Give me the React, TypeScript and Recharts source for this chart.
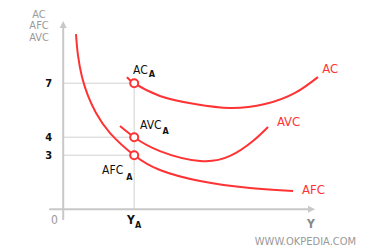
import React from "react";
import { ComposedChart, Line, XAxis, YAxis, ReferenceLine, ReferenceDot } from "recharts";

// Curve values (x in output units, Y_A = 4; y in cost units)
const acX = [3.59, 4, 5.45, 7.42, 9.4, 11.37, 13.06, 14.35];
const acY = [7.34, 7, 6.29, 5.84, 5.62, 5.84, 6.46, 7.34];
const avcX = [3.2, 4, 5.45, 7.71, 9.4, 10.69, 11.54];
const avcY = [4.62, 4, 3.23, 2.68, 2.96, 3.79, 4.57];
const afcX = [0.72, 0.83, 1.06, 1.4, 1.85, 2.64, 4, 5.45, 7.71, 10.52, 12.95];
const afcY = [9.73, 8.57, 7.34, 6.29, 5.34, 4.23, 3, 2.18, 1.57, 1.18, 1.01];

const yA = 4;
const yTicks = [7, 4, 3];
const pointNames = ["AC", "AVC", "AFC"];
const yTitle = ["AC", "AFC", "AVC"];

const RED = "#ff3333";
const AXIS = "#c8c8c8";
const GUIDE = "#d2d2d2";
const FONT = "'DejaVu Sans Condensed', 'Liberation Sans', sans-serif";

const toRows = (xs: number[], ys: number[]) => xs.map((x, i) => ({ x, y: ys[i] }));
const acData = toRows(acX, acY);
const avcData = toRows(avcX, avcY);
const afcData = toRows(afcX, afcY);

type TextSpec = {
  key: string;
  x: number;
  y: number;
  text: string;
  sub?: string;
  subDx?: number;
  subDy?: number;
  anchor?: "start" | "middle" | "end";
  size: number;
  subSize?: number;
  color: string;
  weight?: string;
};

const texts: TextSpec[] = [
  { key: "t0", x: -1.36, y: 10.84, text: yTitle[0], anchor: "middle", size: 11, color: "#9a9a9a" },
  { key: "t1", x: -1.36, y: 10.18, text: yTitle[1], anchor: "middle", size: 11, color: "#9a9a9a" },
  { key: "t2", x: -1.36, y: 9.52, text: yTitle[2], anchor: "middle", size: 11, color: "#9a9a9a" },
  ...yTicks.map((v) => ({ key: "yt" + v, x: -0.63, y: v, text: String(v), anchor: "end" as const, size: 11, color: "#111", weight: "bold" })),
  { key: "zero", x: -0.49, y: -0.6, text: "0", anchor: "middle", size: 12, color: "#999" },
  { key: "ya", x: 3.6, y: -0.6, text: "Y", sub: "A", subDx: 0, subDy: 5, size: 12, subSize: 9, color: "#111", weight: "bold" },
  { key: "acA", x: 3.93, y: 7.73, text: pointNames[0], sub: "A", subDx: 1, subDy: 4, size: 12, subSize: 9, color: "#111" },
  { key: "avcA", x: 4.33, y: 4.68, text: pointNames[1], sub: "A", subDx: 1, subDy: 6, size: 12, subSize: 9, color: "#111" },
  { key: "afcA", x: 2.19, y: 2.18, text: pointNames[2], sub: "A", subDx: 3, subDy: 7, size: 12, subSize: 9, color: "#111" },
  { key: "lac", x: 14.59, y: 7.79, text: "AC", size: 13, color: RED },
  { key: "lavc", x: 12.04, y: 4.9, text: "AVC", size: 13, color: RED },
  { key: "lafc", x: 13.45, y: 1.12, text: "AFC", size: 13, color: RED },
  { key: "yl", x: 13.96, y: -0.82, text: "Y", anchor: "middle", size: 12, color: "#888", weight: "bold" },
  { key: "wm", x: 16.5, y: -1.78, text: "WWW.OKPEDIA.COM", anchor: "end", size: 11, color: "#999" },
];

const renderText = (s: TextSpec) => (p: any) => (
  <text
    x={p.cx}
    y={p.cy}
    textAnchor={s.anchor || "start"}
    dominantBaseline="central"
    fontFamily={FONT}
    fontSize={s.size}
    fontWeight={s.weight || "normal"}
    fill={s.color}
  >
    {s.text}
    {s.sub ? (
      <tspan dx={s.subDx || 0} dy={s.subDy || 0} fontSize={s.subSize} fontWeight="bold">
        {s.sub}
      </tspan>
    ) : null}
  </text>
);

const arrowUp = (p: any) => (
  <path d={`M${p.cx},${p.cy} L${p.cx - 3.5},${p.cy + 7} L${p.cx + 3.5},${p.cy + 7} Z`} fill={AXIS} />
);
const arrowRight = (p: any) => (
  <path d={`M${p.cx},${p.cy} L${p.cx - 7},${p.cy - 3.5} L${p.cx - 7},${p.cy + 3.5} Z`} fill={AXIS} />
);

export default function App() {
  return (
    <div style={{ position: "absolute", left: 0, top: 0, width: 370, height: 250, background: "#fff" }}>
      <ComposedChart width={370} height={250} margin={{ top: 22, right: 47.65, bottom: 30, left: 49 }}>
        <XAxis type="number" dataKey="x" domain={[-0.8, 14.6]} hide allowDataOverflow />
        <YAxis type="number" dataKey="y" domain={[-0.6, 10.4]} hide allowDataOverflow />

        {yTicks.map((v) => (
          <ReferenceLine
            key={"g" + v}
            segment={[{ x: 0, y: v }, { x: yA, y: v }]}
            stroke={GUIDE}
            strokeWidth={1}
            ifOverflow="visible"
          />
        ))}
        <ReferenceLine segment={[{ x: yA, y: 0 }, { x: yA, y: 7 }]} stroke={GUIDE} strokeWidth={1} ifOverflow="visible" />

        <ReferenceLine segment={[{ x: -0.79, y: 0 }, { x: 13.9, y: 0 }]} stroke={AXIS} strokeWidth={2} ifOverflow="visible" />
        <ReferenceLine segment={[{ x: 0, y: -0.6 }, { x: 0, y: 10.1 }]} stroke={AXIS} strokeWidth={2} ifOverflow="visible" />
        <ReferenceDot x={0} y={10.46} r={0} ifOverflow="visible" shape={arrowUp} />
        <ReferenceDot x={14.19} y={0} r={0} ifOverflow="visible" shape={arrowRight} />

        <Line data={afcData} dataKey="y" type="natural" stroke={RED} strokeWidth={2} dot={false} isAnimationActive={false} />
        <Line data={avcData} dataKey="y" type="natural" stroke={RED} strokeWidth={2} dot={false} isAnimationActive={false} />
        <Line data={acData} dataKey="y" type="natural" stroke={RED} strokeWidth={2} dot={false} isAnimationActive={false} />

        {yTicks.map((v) => (
          <ReferenceDot key={"p" + v} x={yA} y={v} r={4} fill="#fff" stroke={RED} strokeWidth={2} ifOverflow="visible" />
        ))}

        {texts.map((s) => (
          <ReferenceDot key={s.key} x={s.x} y={s.y} r={0} ifOverflow="visible" shape={renderText(s)} />
        ))}
      </ComposedChart>
    </div>
  );
}
